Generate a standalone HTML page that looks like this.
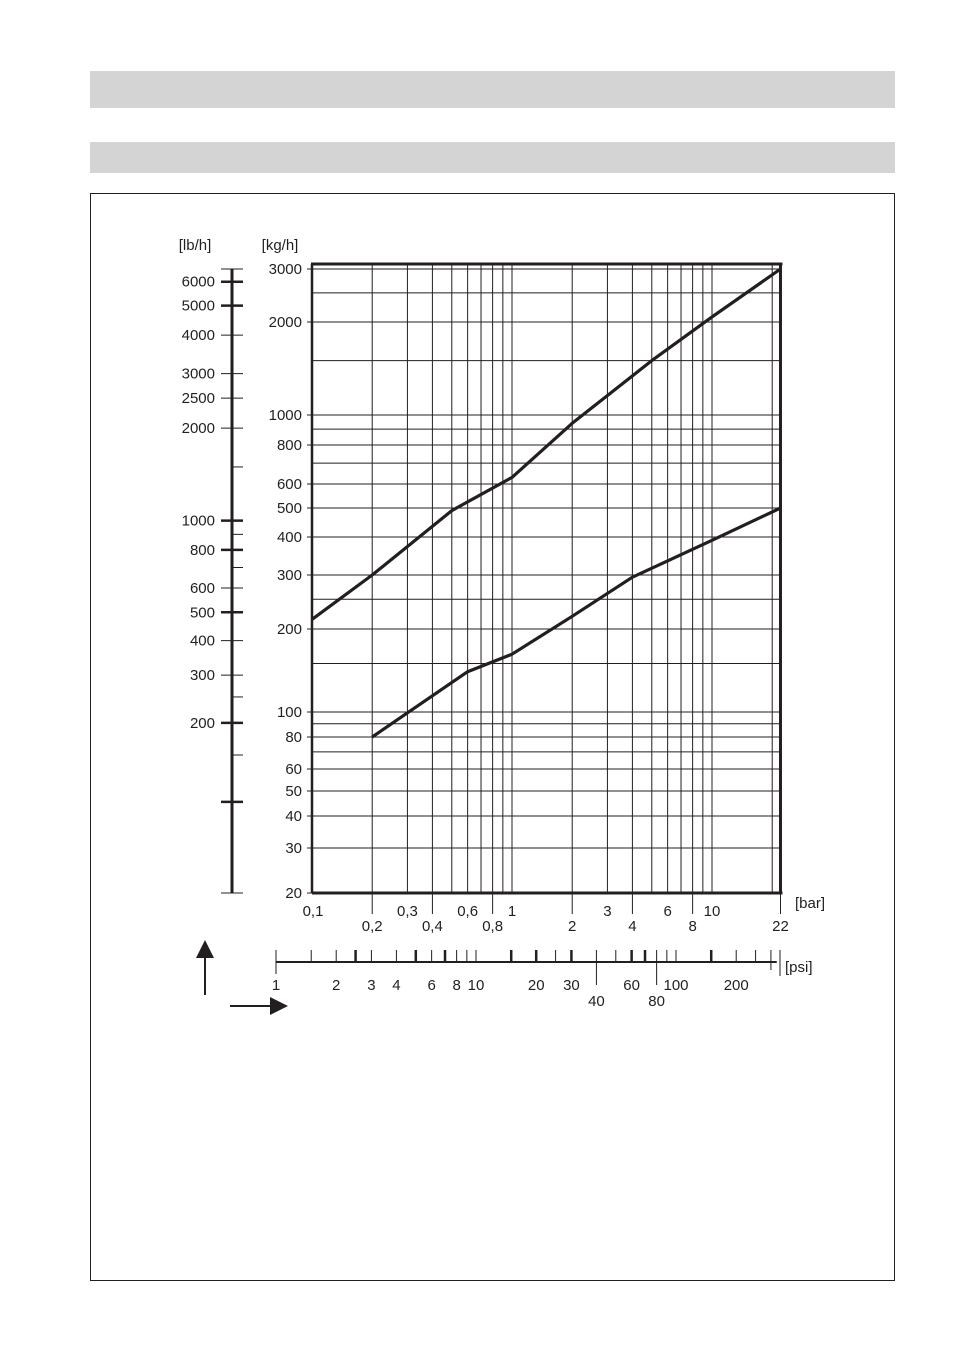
<!DOCTYPE html>
<html><head><meta charset="utf-8">
<style>
html,body{margin:0;padding:0;background:#fff;}
body{width:953px;height:1352px;position:relative;overflow:hidden;font-family:"Liberation Sans",Arial,sans-serif;}
</style></head>
<body>
<svg id="chart" width="953" height="1352" viewBox="0 0 953 1352" xmlns="http://www.w3.org/2000/svg" font-family="Liberation Sans, Arial, sans-serif" font-size="15" fill="#231f20">
<rect x="90" y="71" width="805" height="37" fill="#d4d4d4"/>
<rect x="90" y="142" width="805" height="31" fill="#d4d4d4"/>
<rect x="90.5" y="193.5" width="804" height="1087" fill="none" stroke="#231f20" stroke-width="1"/>
<g id="g"></g>
</svg>
<script>
// y-axis knots (kg/h value -> reference scale)
const yKnotVals=[20,30,40,50,60,80,100,200,300,400,500,600,800,1000,2000,3000];
const yKnotPix=[893,848,816,791,769,737,712,629,575,537,508,484,445,415,322,269];
const yGrid=[20,30,40,50,60,70,80,90,100,150,200,250,300,400,500,600,700,800,900,1000,1500,2000,2500,3000];
const yLabels=[20,30,40,50,60,80,100,200,300,400,500,600,800,1000,2000,3000];
const xGrid=[0.1,0.2,0.3,0.4,0.5,0.6,0.7,0.8,0.9,1,2,3,4,5,6,7,8,9,10,20,22];
const xLabelsTop=[0.1,0.3,0.6,1,3,6,10];
const xLabelsBot=[0.2,0.4,0.8,2,4,8,22];
const lbTicks=[6000,5000,4000,3000,2500,2000,1500,1000,900,800,700,600,500,400,300,250,200,150,100];
const lbLabels=[6000,5000,4000,3000,2500,2000,1000,800,600,500,400,300,200];
const lbThick=[6000,5000,1000,800,500,200,100];
const lbSmall=[1500,900,700,250,150];
const psiTicks=[1,1.5,2,2.5,3,4,5,6,7,8,9,10,15,20,25,30,40,50,60,70,80,90,100,150,200,250,300];
const psiThick=[2.5,5,7,15,20,30,60,70,150];
const psiLabels=[1,2,3,4,6,8,10,20,30,60,100,200];
const psiLabelsLow=[40,80];
const barsX1=[0.1,0.2,0.5,1,2,5,10,22];
const series1=[215,300,490,630,940,1500,2080,3000];
const barsX2=[0.2,0.6,1,2,4,10,22];
const series2=[80,140,162,220,295,390,500];

const X0=312,DEC=200;
function x(v){return X0+DEC*Math.log10(v/0.1);}
function y(v){const l=Math.log10(v);
 for(let i=0;i<yKnotVals.length-1;i++){const a=Math.log10(yKnotVals[i]),b=Math.log10(yKnotVals[i+1]);
  if(l<=b||i==yKnotVals.length-2){return yKnotPix[i]+(yKnotPix[i+1]-yKnotPix[i])*(l-a)/(b-a);}}}
function ylb(v){return y(v/2.2046);}
function xp(v){return 276+200*Math.log10(v);}
const g=document.getElementById('g');const NS='http://www.w3.org/2000/svg';
function el(t,a,p){const e=document.createElementNS(NS,t);for(const k in a)e.setAttribute(k,a[k]);(p||g).appendChild(e);return e;}
function line(x1,y1,x2,y2,w,name){const e=el('line',{x1,y1,x2,y2,stroke:'#231f20','stroke-width':w});
 
 return e;}
function text(s,tx,ty,anchor,name){const e=el('text',{x:tx,y:ty,'text-anchor':anchor||'middle'});e.textContent=s;
 
 return e;}
const fmt=v=>String(v).replace('.',',');
const L=x(0.1),R=x(22),T=264,B=y(20);
yGrid.forEach(v=>line(L,y(v),R,y(v),1,'grid-h-'+v));
xGrid.forEach(v=>line(x(v),T,x(v),B,1,'grid-v-'+v));
line(L-1,T,R+2,T,3,'plot-top');line(L,B,R+2,B,3,'x-axis');line(L,T,L,B,2.5,'y-axis');line(R,T,R,B+1,3,'plot-right');
yLabels.forEach(v=>{line(L-5,y(v),L,y(v),1,'ytick-'+v);text(v,L-10,y(v)+5,'end','ytick-label-'+v);});
xLabelsTop.forEach(v=>text(fmt(v),x(v)+(v==0.1?1:0),916,'middle','xtick-label-'+v));
xLabelsBot.forEach(v=>{line(x(v),B,x(v),914,1,'xtick-'+v);text(fmt(v),x(v),931,'middle','xtick-label-'+v);});
text('[bar]',795,908,'start','x-unit-bar');
text('[kg/h]',280,250,'middle','y-unit-kgh');
text('[lb/h]',195,250,'middle','y-unit-lbh');
// lb axis
line(232,269,232,893,3,'lb-axis');
line(221,269,243,269,1,'lb-top-tick');line(221,893,243,893,1,'lb-bottom-tick');
lbTicks.forEach(v=>{const yy=ylb(v);
 if(lbSmall.includes(v))line(232,yy,243,yy,1,'lb-tick-'+v);
 else line(221,yy,243,yy,lbThick.includes(v)?2.5:1,'lb-tick-'+v);});
lbLabels.forEach(v=>text(v,215,ylb(v)+5,'end','lb-label-'+v));
// psi axis
const PY=962;
line(xp(1),PY,xp(319),PY,2,'psi-axis');
line(xp(300)-0.5,950,xp(300)-0.5,970,1,'psi-end-1');line(780,950,780,976,1,'psi-end-2');
psiTicks.forEach(v=>{if(v==300)return;const w=psiThick.includes(v)?2.5:1;
 const low=psiLabelsLow.includes(v);line(xp(v),950,xp(v),low?985:(v==1?974:PY),w,'psi-tick-'+v);});
psiLabels.forEach(v=>text(v,xp(v),990,'middle','psi-label-'+v));
psiLabelsLow.forEach(v=>text(v,xp(v),1006,'middle','psi-label-'+v));
text('[psi]',785,972,'start','psi-unit');
// curves
function curve(xs,vs,name){const d=xs.map((v,i)=>(i?'L':'M')+x(v).toFixed(1)+','+y(vs[i]).toFixed(1)).join('');
 const e=el('path',{d,fill:'none',stroke:'#231f20','stroke-width':3.2,'stroke-linejoin':'round'});
 
 }
curve(barsX1,series1,'upper-curve');
curve(barsX2,series2,'lower-curve');
// arrows
line(205,995,205,955,2,'up-arrow-shaft');
const a1=el('polygon',{points:'196,958 214,958 205,940'});


line(230,1006,272,1006,2,'right-arrow-shaft');
const a2=el('polygon',{points:'270,997 270,1015 288,1006'});


</script>
</body></html>
